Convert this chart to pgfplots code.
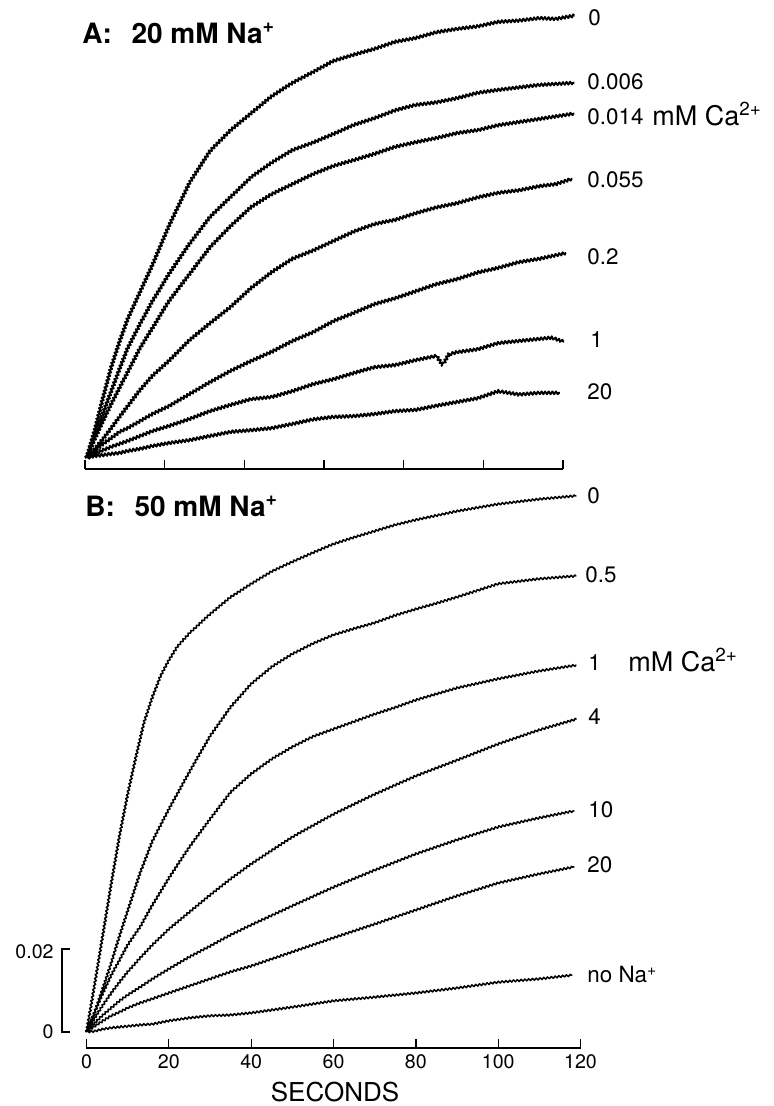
\documentclass[border=0pt]{standalone}
\usepackage{fontspec}
\setmainfont{TeX Gyre Heros}
\usepackage{pgfplots}
\pgfplotsset{compat=1.18}
\usetikzlibrary{decorations.pathmorphing}

% noisy recorder trace
\tikzset{
  traceA/.style={black, line width=0.95pt, line join=round,
    decorate, decoration={zigzag, segment length=1.8pt, amplitude=0.7pt}},
  traceB/.style={black, line width=0.75pt, line join=round,
    decorate, decoration={zigzag, segment length=1.9pt, amplitude=0.5pt}},
}
\newcommand{\lab}{\fontsize{11.2}{13}\selectfont}
\newcommand{\unitlab}{\fontsize{13.5}{15}\selectfont}

\pgfplotsset{
  trace axis/.style={
    anchor=south west,
    x=2.0585pt, y=2075pt,
    axis x line*=bottom, axis y line=none,
    ytick=\empty,
    xtick align=inside,
    major tick length=4.5pt,
    every tick/.style={black, line width=0.65pt},
    axis line style={black, line width=0.65pt},
    clip=false,
    ticklabel style={font=\fontsize{9.8}{11}\selectfont},
    /pgf/number format/assume math mode=true,
  },
}

\begin{document}
\begin{tikzpicture}
\path[use as bounding box] (0,0) rectangle (386.5pt,553pt);

% ---------------- Panel A: 20 mM Na+ ----------------
\begin{axis}[trace axis,
  at={(42.43pt,318.5pt)},
  xmin=-0.4, xmax=115.76, ymin=-0.00265, ymax=0.11,
  xtick={-0.4,18.96,38.32,57.68,77.04,96.4,115.76},
  xticklabels={},
]
% 0 mM Ca2+
\addplot[traceA] coordinates {(0,0)(2,0.0067)(4,0.0145)(6,0.0219)(8,0.0280)(10,0.0335)(13,0.0400)(16,0.0465)(20,0.0559)(25,0.0663)(30,0.0740)(35,0.0790)(40,0.0831)(45,0.0872)(50,0.0904)(55,0.0930)(60,0.0957)(65,0.0972)(70,0.0986)(75,0.1003)(80,0.1012)(85,0.1026)(90,0.1034)(95,0.1040)(100,0.1051)(105,0.1054)(110,0.1060)(114,0.1058)(118.5,0.1066)};
% 0.006
\addplot[traceA] coordinates {(0,0)(2,0.0053)(4,0.0108)(6,0.0161)(8,0.0214)(10,0.0265)(13,0.0323)(16,0.0378)(20,0.0443)(25,0.0516)(30,0.0581)(35,0.0629)(40,0.0677)(45,0.0712)(50,0.0742)(55,0.0760)(60,0.0781)(65,0.0803)(70,0.0819)(75,0.0838)(80,0.0851)(85,0.0857)(90,0.0867)(95,0.0880)(100,0.0887)(110,0.0899)(118.5,0.0904)};
% 0.014
\addplot[traceA] coordinates {(0,0)(2,0.0046)(4,0.0089)(6,0.0130)(8,0.0169)(10,0.0207)(13,0.0265)(16,0.0313)(20,0.0378)(25,0.0443)(30,0.0508)(35,0.0559)(40,0.0605)(45,0.0636)(50,0.0660)(55,0.0684)(60,0.0704)(65,0.0718)(70,0.0733)(75,0.0750)(80,0.0761)(85,0.0771)(90,0.0783)(95,0.0790)(100,0.0802)(110,0.0817)(118.5,0.0830)};
% 0.055
\addplot[traceA] coordinates {(0,0)(2,0.0022)(4,0.0046)(6,0.0072)(8,0.0099)(10,0.0125)(13,0.0164)(16,0.0198)(20,0.0234)(25,0.0284)(30,0.0325)(35,0.0364)(40,0.0410)(45,0.0448)(50,0.0480)(55,0.0500)(60,0.0523)(65,0.0546)(70,0.0564)(75,0.0574)(80,0.0590)(85,0.0604)(90,0.0614)(95,0.0628)(100,0.0639)(105,0.0645)(110,0.0655)(114,0.0660)(118,0.0673)};
% 0.2
\addplot[traceA] coordinates {(0,0)(2,0.0017)(4,0.0034)(6,0.0048)(8,0.0063)(10,0.0072)(13,0.0089)(16,0.0106)(20,0.0125)(25,0.0154)(30,0.0183)(35,0.0210)(40,0.0234)(45,0.0256)(50,0.0282)(55,0.0303)(60,0.0330)(65,0.0350)(70,0.0371)(75,0.0385)(80,0.0402)(85,0.0419)(90,0.0431)(95,0.0447)(100,0.0458)(105,0.0472)(110,0.0480)(116.5,0.0494)};
% 1
\addplot[traceA] coordinates {(0,0)(2,0.0010)(4,0.0019)(6,0.0027)(8,0.0034)(10,0.0041)(13,0.0053)(16,0.0065)(20,0.0077)(25,0.0094)(30,0.0113)(35,0.0128)(40,0.0142)(45,0.0147)(50,0.0161)(55,0.0178)(60,0.0190)(65,0.0205)(70,0.0219)(75,0.0224)(80,0.0236)(85,0.0246)(86.5,0.0224)(88,0.0250)(90,0.0255)(95,0.0262)(100,0.0277)(105,0.0282)(110,0.0287)(113,0.0290)(116,0.0280)};
% 20
\addplot[traceA] coordinates {(0,0)(2,0.0005)(4,0.0007)(6,0.0010)(8,0.0012)(10,0.0017)(13,0.0022)(16,0.0029)(20,0.0036)(25,0.0043)(30,0.0053)(35,0.0063)(40,0.0067)(45,0.0072)(50,0.0082)(55,0.0093)(60,0.0099)(65,0.0101)(70,0.0106)(75,0.0113)(80,0.0116)(85,0.0126)(90,0.0135)(95,0.0144)(100,0.0161)(105,0.0153)(110,0.0157)(115,0.0157)};
\end{axis}

% ---------------- Panel B: 50 mM Na+ ----------------
\begin{axis}[trace axis,
  at={(43.25pt,29pt)},
  xmin=0, xmax=120, ymin=-0.00386, ymax=0.135,
  xtick={0,20,...,120},
]
% 0 mM Ca2+
\addplot[traceB] coordinates {(0,0)(2,0.0116)(4,0.0236)(6,0.0357)(8,0.0472)(10,0.0573)(12,0.0663)(14,0.0747)(16,0.0807)(18,0.0858)(20,0.0896)(22,0.0928)(25,0.0961)(30,0.1007)(35,0.1048)(40,0.1080)(45,0.1110)(50,0.1133)(55,0.1155)(60,0.1176)(65,0.1192)(70,0.1207)(75,0.1222)(80,0.1234)(90,0.1255)(100,0.1272)(110,0.1284)(119,0.1292)};
% 0.5
\addplot[traceB] coordinates {(0,0)(2,0.0048)(4,0.0106)(6,0.0166)(8,0.0231)(10,0.0292)(13,0.0383)(16,0.0460)(20,0.0537)(25,0.0627)(30,0.0713)(35,0.0783)(40,0.0839)(45,0.0880)(50,0.0911)(55,0.0936)(60,0.0957)(65,0.0972)(70,0.0986)(75,0.1004)(80,0.1019)(85,0.1033)(90,0.1048)(100,0.1080)(110,0.1092)(119,0.1099)};
% 1
\addplot[traceB] coordinates {(0,0)(2,0.0048)(4,0.0094)(6,0.0137)(8,0.0173)(10,0.0210)(13,0.0253)(16,0.0306)(20,0.0371)(25,0.0446)(30,0.0513)(35,0.0578)(40,0.0622)(45,0.0658)(50,0.0687)(55,0.0712)(60,0.0730)(65,0.0748)(70,0.0766)(75,0.0782)(80,0.0800)(90,0.0829)(100,0.0851)(110,0.0870)(119,0.0884)};
% 4
\addplot[traceB] coordinates {(0,0)(2,0.0034)(4,0.0065)(6,0.0094)(8,0.0120)(10,0.0145)(13,0.0178)(16,0.0210)(20,0.0248)(25,0.0289)(30,0.0330)(35,0.0369)(40,0.0405)(50,0.0470)(60,0.0525)(70,0.0573)(80,0.0617)(90,0.0655)(100,0.0694)(110,0.0728)(119,0.0754)};
% 10
\addplot[traceB] coordinates {(0,0)(2,0.0022)(4,0.0041)(6,0.0058)(8,0.0075)(10,0.0089)(13,0.0108)(16,0.0128)(20,0.0152)(25,0.0181)(30,0.0207)(35,0.0234)(40,0.0258)(50,0.0304)(60,0.0349)(70,0.0390)(80,0.0429)(90,0.0463)(100,0.0494)(110,0.0516)(118.5,0.0533)};
% 20
\addplot[traceB] coordinates {(0,0)(2,0.0014)(4,0.0027)(6,0.0039)(8,0.0048)(10,0.0058)(13,0.0070)(16,0.0080)(20,0.0094)(25,0.0111)(30,0.0128)(35,0.0145)(40,0.0159)(50,0.0193)(60,0.0227)(70,0.0260)(80,0.0294)(90,0.0328)(100,0.0359)(110,0.0381)(118.5,0.0398)};
% no Na+
\addplot[traceB] coordinates {(0,0)(2,0.0002)(4,0.0007)(6,0.0010)(8,0.0012)(10,0.0014)(13,0.0017)(16,0.0019)(20,0.0027)(25,0.0034)(30,0.0039)(35,0.0041)(40,0.0046)(50,0.0060)(60,0.0075)(70,0.0084)(80,0.0094)(90,0.0106)(100,0.0120)(110,0.0128)(118,0.0137)};

% absorbance scale bar
\draw[black, line width=0.6pt] (axis cs:-4,0) -| (axis cs:-5.95,0.02) -- (axis cs:-4,0.02);
\node[anchor=east, inner sep=0pt, font=\fontsize{9.8}{11}\selectfont] at (axis cs:-7.9,0.0194) {0.02};
\node[anchor=east, inner sep=0pt, font=\fontsize{9.8}{11}\selectfont] at (axis cs:-7.9,0) {0};
\end{axis}

% panel titles
\node[anchor=west, inner sep=0pt, font=\fontsize{14}{16}\bfseries\selectfont] at (41pt,536.5pt) {A:\hspace{0.7em}20 mM Na\textsuperscript{+}};
\node[anchor=west, inner sep=0pt, font=\fontsize{14}{16}\bfseries\selectfont] at (42.5pt,300pt) {B:\hspace{0.7em}50 mM Na\textsuperscript{+}};

% curve labels, panel A
\begin{scope}[every node/.style={anchor=west, inner sep=0pt, font=\lab}]
\node at (294pt,544pt) {0};
\node at (293.5pt,512pt) {0.006};
\node at (293.5pt,494.5pt) {0.014};
\node at (293.5pt,463pt) {0.055};
\node at (293.5pt,424.5pt) {0.2};
\node at (295pt,383pt) {1};
\node at (293.5pt,357pt) {20};
% curve labels, panel B
\node at (293.5pt,305pt) {0};
\node at (292.5pt,265.5pt) {0.5};
\node at (294pt,221.5pt) {1};
\node at (294pt,194.5pt) {4};
\node at (294pt,148pt) {10};
\node at (293.5pt,120.5pt) {20};
\node at (293.5pt,65.5pt) {no Na\textsuperscript{+}};
\end{scope}
\node[anchor=west, inner sep=0pt, font=\unitlab] at (326pt,496pt) {mM Ca\textsuperscript{2+}};
\node[anchor=west, inner sep=0pt, font=\unitlab] at (314pt,223pt) {mM Ca\textsuperscript{2+}};

% time axis title
\node[font=\fontsize{13}{15}\selectfont] at (167.5pt,7pt) {SECONDS};
\end{tikzpicture}
\end{document}
